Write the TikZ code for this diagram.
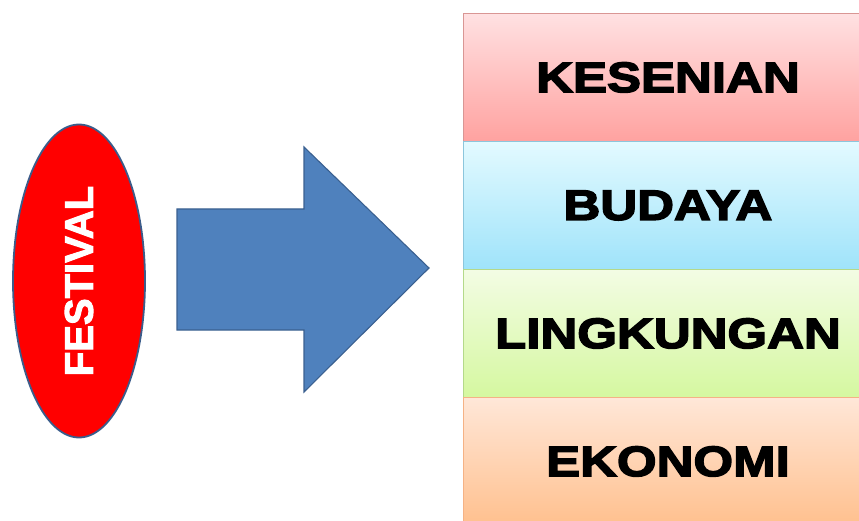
\documentclass[tikz,border=0pt]{standalone}
\usepackage{fontspec}
\setmainfont{Liberation Sans}
\newfontfamily\heavyfont[FakeStretch=1.2,FakeBold=3.5]{Liberation Sans Bold}
\newfontfamily\ovalfont[FakeBold=2.5]{Liberation Sans Bold}
\usetikzlibrary{shapes.geometric}

\definecolor{festred}{HTML}{FF0000}
\definecolor{festline}{HTML}{3B5C8A}
\definecolor{arrowfill}{HTML}{4F81BD}
\definecolor{arrowline}{HTML}{3A6090}
\definecolor{kesTop}{HTML}{FFE1E2}
\definecolor{kesBot}{HTML}{FFA2A0}
\definecolor{kesLine}{HTML}{D99694}
\definecolor{budTop}{HTML}{E3FAFF}
\definecolor{budBot}{HTML}{9FE3FA}
\definecolor{budLine}{HTML}{8CC6DC}
\definecolor{linTop}{HTML}{F3FCE4}
\definecolor{linBot}{HTML}{D5F8A0}
\definecolor{linLine}{HTML}{B4D98A}
\definecolor{ekoTop}{HTML}{FFE7D8}
\definecolor{ekoBot}{HTML}{FFC08E}
\definecolor{ekoLine}{HTML}{F5B285}

\tikzset{
  catbox/.style={rectangle, anchor=north west, minimum width=407pt, minimum height=128pt,
    inner sep=0pt, line width=0.9pt,
    font={\heavyfont\fontsize{42.5}{42.5}\selectfont}, text=black},
}

\begin{document}
\begin{tikzpicture}[x=1pt,y=1pt]
  \useasboundingbox (0,0) rectangle (859,520);
  \begin{scope}
    \clip (0,0) rectangle (859,520);

    % oval with vertical label
    \node[ellipse, rotate=90, minimum width=313pt, minimum height=132pt, inner sep=0pt,
          fill=festred, draw=festline, line width=1.8pt,
          font={\ovalfont\fontsize{40}{40}\selectfont}, text=white]
          (festival) at (79,239) {FESTIVAL};

    % block arrow
    \draw[fill=arrowfill, draw=arrowline, line width=1.1pt, line join=miter]
      (177,311) -- (304,311) -- (304,373) -- (429,252) -- (304,128) -- (304,190)
      -- (177,190) -- cycle;

    % stacked category boxes
    \node[catbox, top color=kesTop, bottom color=kesBot, draw=kesLine]
      (kesenian) at (463,507) {\hspace*{2pt}KESENIAN};
    \node[catbox, top color=budTop, bottom color=budBot, draw=budLine]
      (budaya) at (463,379) {\hspace*{2pt}BUDAYA};
    \node[catbox, top color=linTop, bottom color=linBot, draw=linLine]
      (lingkungan) at (463,251) {\hspace*{2pt}LINGKUNGAN};
    \node[catbox, top color=ekoTop, bottom color=ekoBot, draw=ekoLine]
      (ekonomi) at (463,123) {\hspace*{2pt}EKONOMI};
  \end{scope}
\end{tikzpicture}
\end{document}
